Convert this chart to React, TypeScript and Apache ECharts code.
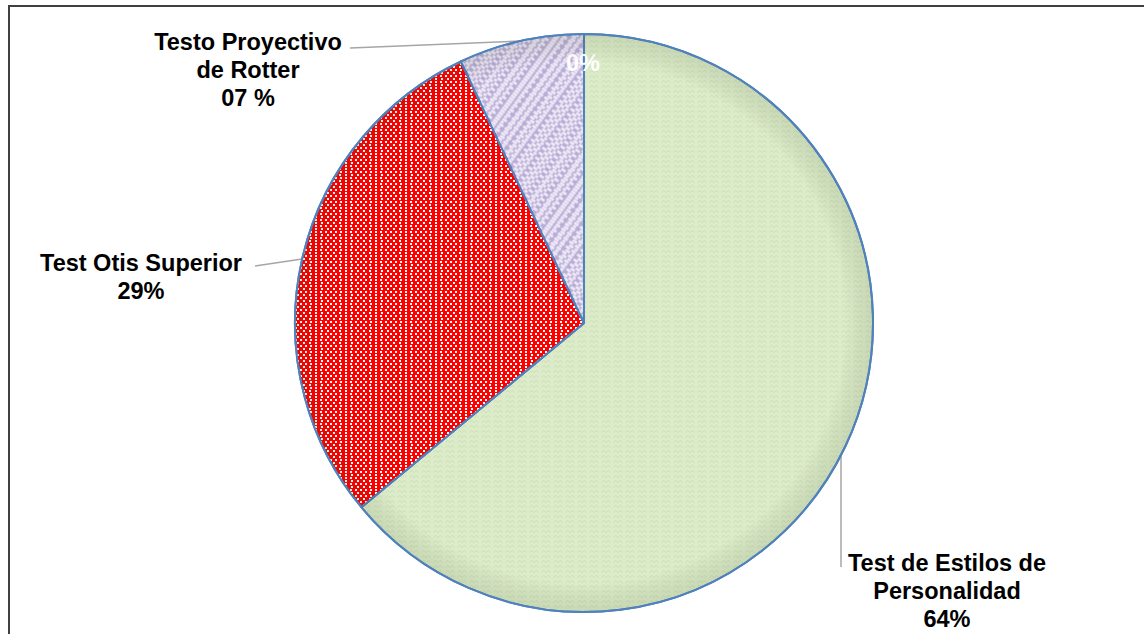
import React, { useEffect, useRef } from "react";
import * as echarts from "echarts";

// Share of each test applied (percent of the total)
const categories = [
  "Test de Estilos de\nPersonalidad",
  "Test Otis Superior",
  "Testo Proyectivo\nde Rotter",
  "",
];
const values = [64, 29, 7, 0];
const percentLabels = ["64%", "29%", "07 %", "0%"];

// Where each data label sits, with its leader line
const labelPlacement = [
  { x: 947, y: 549, line: [[841, 450], [841, 450], [841, 567]] },
  { x: 141, y: 249, line: [[302, 259], [255, 266], [255, 266]] },
  { x: 248, y: 28, line: [[521, 41], [350, 48], [350, 48]] },
  { x: 583, y: 49, line: null },
];

const PIE_CX = 584;
const PIE_CY = 323;
const PIE_R = 289;

const sliceStyles = [
  {
    color: "#dcebc9",
    decal: {
      symbol: "path://M0,3 L3,0 L6,3 L9,0 L12,3 L12,4 L9,1 L6,4 L3,1 L0,4 Z",
      symbolSize: 1,
      dashArrayX: [12, 0],
      dashArrayY: [3, 2],
      color: "rgba(170,200,130,0.45)",
    },
  },
  {
    color: "#ff0000",
    decal: {
      symbol: "rect",
      symbolSize: 1,
      dashArrayX: [[2, 3], [0, 2.5, 2, 0.5]],
      dashArrayY: [2, 0.5],
      color: "#ffffff",
    },
  },
  {
    color: "#b9acd6",
    decal: {
      symbol: "roundRect",
      symbolSize: 0.85,
      dashArrayX: [[6, 1], [0, 3.5, 6, 1, 3.5, 0]],
      dashArrayY: [3, 0],
      rotation: Math.PI / 5,
      color: "#f1edf8",
    },
  },
  { color: "#ffffff" },
];

export default function App() {
  const ref = useRef<HTMLDivElement>(null);

  useEffect(() => {
    if (!ref.current) return;
    const chart = echarts.init(ref.current, null, { renderer: "svg" });

    const data = values.map((v, i) => ({
      value: v,
      name: categories[i],
      itemStyle: {
        color: sliceStyles[i].color,
        decal: (sliceStyles[i] as any).decal,
      },
      label: i === 3 ? { color: "#ffffff" } : undefined,
      labelLine: i === 3 ? { show: false } : undefined,
    }));

    chart.setOption({
      animation: false,
      backgroundColor: "#ffffff",
      graphic: [
        {
          type: "rect",
          z: -10,
          shape: { x: 9, y: 6, width: 1200, height: 700 },
          style: { fill: "none", stroke: "#404040", lineWidth: 2 },
        },
        {
          // soft darkening toward the rim of the pie
          type: "circle",
          silent: true,
          z: 50,
          shape: { cx: PIE_CX, cy: PIE_CY, r: PIE_R - 1 },
          style: {
            fill: {
              type: "radial",
              x: PIE_CX,
              y: PIE_CY,
              r: PIE_R,
              global: true,
              colorStops: [
                { offset: 0, color: "rgba(0,0,0,0)" },
                { offset: 0.9, color: "rgba(0,0,0,0)" },
                { offset: 1, color: "rgba(60,80,40,0.12)" },
              ],
            },
          },
        },
      ],
      series: [
        {
          type: "pie",
          center: [PIE_CX, PIE_CY],
          radius: PIE_R,
          startAngle: 90,
          clockwise: true,
          avoidLabelOverlap: false,
          stillShowZeroSum: true,
          itemStyle: { borderColor: "#4f81bd", borderWidth: 2 },
          label: {
            show: true,
            position: "outside",
            fontFamily: "Liberation Sans, Arial, sans-serif",
            fontWeight: "bold",
            fontSize: 23.5,
            lineHeight: 28,
            color: "#000000",
            align: "center",
            formatter: (p: any) => {
              const pct = percentLabels[p.dataIndex];
              return p.name ? `${p.name}\n${pct}` : pct;
            },
          },
          labelLine: {
            show: true,
            lineStyle: { color: "#a6a6a6", width: 1.5 },
          },
          labelLayout: (params: any) => {
            const pl = labelPlacement[params.dataIndex];
            const out: any = {
              x: pl.x,
              y: pl.y,
              align: "center",
              verticalAlign: "top",
            };
            if (pl.line) out.labelLinePoints = pl.line;
            return out;
          },
          emphasis: { disabled: true },
          data,
        },
      ],
    });

    return () => chart.dispose();
  }, []);

  return (
    <div
      ref={ref}
      style={{ position: "fixed", left: 0, top: 0, width: 1144, height: 634 }}
    />
  );
}
